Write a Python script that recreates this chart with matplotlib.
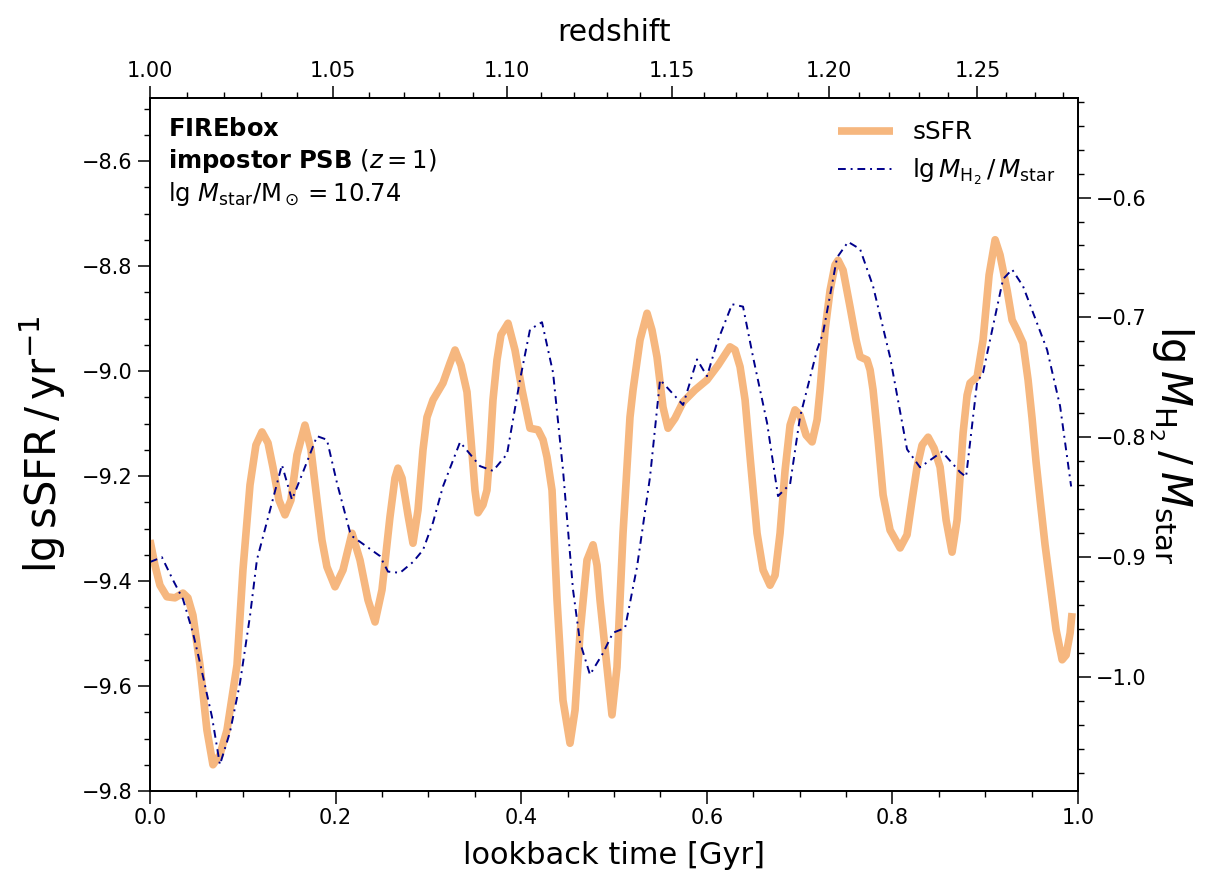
import numpy as np
import matplotlib
matplotlib.use("Agg")
import matplotlib.pyplot as plt
from matplotlib.ticker import MultipleLocator

# lookback time [Gyr] relative to z=1, sSFR curve
t_ssfr = [0.000, 0.0054, 0.0108, 0.0183, 0.0269, 0.0356, 0.0409, 0.0463, 0.0539, 0.0614,
          0.0679, 0.0754, 0.0830, 0.0938, 0.1002, 0.1078, 0.1142, 0.1207, 0.1272, 0.1325,
          0.1390, 0.1455, 0.1519, 0.1584, 0.1670, 0.1735, 0.1800, 0.1853, 0.1907, 0.1994,
          0.2080, 0.2177, 0.2263, 0.2349, 0.2425, 0.2500, 0.2586, 0.2640, 0.2672, 0.2716,
          0.2780, 0.2834, 0.2888, 0.2942, 0.2985, 0.3050, 0.3157, 0.3233, 0.3287, 0.3351,
          0.3416, 0.3459, 0.3502, 0.3534, 0.3588, 0.3631, 0.3664, 0.3696, 0.3739, 0.3782,
          0.3858, 0.3933, 0.4009, 0.4095, 0.4181, 0.4235, 0.4278, 0.4332, 0.4386, 0.4450,
          0.4526, 0.4580, 0.4634, 0.4709, 0.4774, 0.4817, 0.4849, 0.4925, 0.4978, 0.5032,
          0.5097, 0.5172, 0.5205, 0.5280, 0.5356, 0.5409, 0.5463, 0.5528, 0.5582, 0.5657,
          0.5744, 0.5873, 0.6002, 0.6121, 0.6250, 0.6304, 0.6358, 0.6412, 0.6466, 0.6541,
          0.6606, 0.6681, 0.6735, 0.6789, 0.6843, 0.6897, 0.6950, 0.7004, 0.7069, 0.7134,
          0.7188, 0.7220, 0.7274, 0.7328, 0.7381, 0.7414, 0.7468, 0.7543, 0.7608, 0.7651,
          0.7726, 0.7759, 0.7791, 0.7845, 0.7899, 0.7974, 0.8082, 0.8157, 0.8211, 0.8265,
          0.8319, 0.8384, 0.8448, 0.8513, 0.8578, 0.8642, 0.8696, 0.8761, 0.8804, 0.8836,
          0.8912, 0.8976, 0.9041, 0.9106, 0.9159, 0.9235, 0.9289, 0.9343, 0.9407, 0.9461,
          0.9504, 0.9547, 0.9591, 0.9644, 0.9698, 0.9763, 0.9828, 0.9871, 0.9914, 0.9935]
ssfr = [-9.322, -9.370, -9.408, -9.430, -9.432, -9.423, -9.432, -9.465, -9.560, -9.684,
        -9.750, -9.731, -9.684, -9.560, -9.379, -9.217, -9.141, -9.116, -9.137, -9.183,
        -9.246, -9.274, -9.246, -9.160, -9.103, -9.150, -9.246, -9.322, -9.373, -9.411,
        -9.379, -9.309, -9.360, -9.436, -9.478, -9.417, -9.278, -9.204, -9.185, -9.204,
        -9.274, -9.328, -9.265, -9.150, -9.088, -9.055, -9.023, -8.985, -8.960, -8.989,
        -9.040, -9.131, -9.227, -9.270, -9.255, -9.227, -9.150, -9.055, -8.979, -8.931,
        -8.909, -8.960, -9.036, -9.109, -9.112, -9.131, -9.164, -9.227, -9.436, -9.627,
        -9.709, -9.646, -9.499, -9.360, -9.331, -9.370, -9.436, -9.564, -9.655, -9.564,
        -9.309, -9.088, -9.036, -8.941, -8.890, -8.922, -8.973, -9.069, -9.109, -9.090,
        -9.059, -9.036, -9.017, -8.989, -8.954, -8.960, -8.992, -9.055, -9.164, -9.309,
        -9.379, -9.408, -9.389, -9.309, -9.189, -9.103, -9.074, -9.084, -9.122, -9.135,
        -9.093, -9.036, -8.922, -8.846, -8.798, -8.789, -8.808, -8.878, -8.941, -8.973,
        -8.979, -8.998, -9.036, -9.131, -9.236, -9.303, -9.337, -9.312, -9.246, -9.183,
        -9.141, -9.126, -9.147, -9.183, -9.284, -9.345, -9.284, -9.118, -9.046, -9.023,
        -9.011, -8.941, -8.817, -8.750, -8.779, -8.846, -8.903, -8.922, -8.947, -9.017,
        -9.090, -9.173, -9.246, -9.331, -9.404, -9.493, -9.550, -9.541, -9.499, -9.461]

# molecular gas fraction
t_h2 = [0.000, 0.0129, 0.0248, 0.0356, 0.0463, 0.0539, 0.0668, 0.0754, 0.0862, 0.0970,
        0.1078, 0.1153, 0.1218, 0.1422, 0.1530, 0.1649, 0.1800, 0.1907, 0.2015, 0.2155,
        0.2188, 0.2478, 0.2565, 0.2694, 0.2834, 0.2942, 0.3050, 0.3157, 0.3341, 0.3556,
        0.3696, 0.3847, 0.3987, 0.4095, 0.4224, 0.4343, 0.4450, 0.4558, 0.4634, 0.4741,
        0.4881, 0.4989, 0.5119, 0.5248, 0.5388, 0.5496, 0.5744, 0.5894, 0.6002, 0.6110,
        0.6272, 0.6390, 0.6498, 0.6649, 0.6767, 0.6897, 0.7004, 0.7188, 0.7252, 0.7403,
        0.7522, 0.7651, 0.7791, 0.7974, 0.8157, 0.8297, 0.8534, 0.8728, 0.8793, 0.8912,
        0.8976, 0.9192, 0.9289, 0.9407, 0.9666, 0.9806, 0.9925]
h2 = [-0.904, -0.900, -0.919, -0.935, -0.963, -0.988, -1.033, -1.073, -1.046, -1.005,
      -0.949, -0.902, -0.883, -0.823, -0.852, -0.829, -0.799, -0.802, -0.838, -0.879,
      -0.883, -0.899, -0.912, -0.913, -0.904, -0.894, -0.871, -0.841, -0.804, -0.824,
      -0.828, -0.814, -0.752, -0.710, -0.704, -0.746, -0.827, -0.927, -0.971, -0.998,
      -0.980, -0.963, -0.959, -0.908, -0.833, -0.752, -0.773, -0.735, -0.749, -0.721,
      -0.689, -0.691, -0.733, -0.788, -0.849, -0.839, -0.783, -0.727, -0.713, -0.650,
      -0.637, -0.643, -0.674, -0.733, -0.810, -0.825, -0.812, -0.829, -0.833, -0.754,
      -0.746, -0.668, -0.660, -0.674, -0.727, -0.774, -0.841]

z_major = [1.00, 1.05, 1.10, 1.15, 1.20, 1.25]


def lookback_from_z1(z, h=0.6774, om=0.3089):
    # lookback time between z=1 and z, flat LCDM
    zz = np.linspace(1.0, z, 500)
    f = 1.0 / ((1 + zz) * np.sqrt(om * (1 + zz) ** 3 + 1 - om))
    return 977.8 / (100 * h) * np.trapezoid(f, zz)


plt.rcParams['mathtext.fontset'] = 'dejavusans'
fig = plt.figure(figsize=(12.24, 8.91), dpi=100)
ax = fig.add_axes([0.1225, 0.1122, 0.7583, 0.7778])
ax2 = ax.twinx()
ax3 = ax.twiny()

l1, = ax.plot(t_ssfr, ssfr, color='#F6B77F', lw=5.5, label='sSFR',
              solid_capstyle='butt', solid_joinstyle='round')
l2, = ax2.plot(t_h2, h2, color='darkblue', lw=1.4, ls=(0, (4, 2.5, 1, 2.5)),
               label=r'$\lg M_{\rm H_2}\,/\,M_{\rm star}$')

ax.set_xlim(0, 1)
ax.set_ylim(-9.80, -8.48)
ax2.set_ylim(-1.095, -0.517)

ax.xaxis.set_major_locator(MultipleLocator(0.2))
ax.xaxis.set_minor_locator(MultipleLocator(0.05))
ax.yaxis.set_major_locator(MultipleLocator(0.2))
ax.yaxis.set_minor_locator(MultipleLocator(0.05))
ax2.yaxis.set_major_locator(MultipleLocator(0.1))
ax2.yaxis.set_minor_locator(MultipleLocator(0.02))

# redshift axis on top
ax3.set_xlim(0, 1)
ax3.set_xticks([lookback_from_z1(z) for z in z_major])
ax3.set_xticklabels(['%.2f' % z for z in z_major])
z_minor = [1.0 + 0.01 * i for i in range(30)]
t_minor = [lookback_from_z1(z) for z in z_minor]
ax3.set_xticks([t for t in t_minor if t <= 1.0], minor=True)
ax3.set_xlabel('redshift', fontsize=21.5, labelpad=14)

for a in (ax, ax2, ax3):
    a.tick_params(which='major', direction='out', length=9, width=1.1, labelsize=15)
    a.tick_params(which='minor', direction='out', length=4.5, width=1.0)
    for s in a.spines.values():
        s.set_linewidth(1.1)

ax.set_xlabel('lookback time [Gyr]', fontsize=22, labelpad=9)
ax.set_ylabel(r'$\lg {\rm sSFR}\,/\,{\rm yr}^{-1}$', fontsize=30, labelpad=10)
ax2.set_ylabel(r'$\lg M_{\rm H_2}\,/\,M_{\rm star}$', fontsize=30,
               rotation=270, labelpad=36)

ax.text(0.019, 0.972,
        '$\\mathbf{FIREbox}$\n$\\mathbf{impostor\\ PSB}\\ (z=1)$\n'
        'lg $M_{\\rm star}/{\\rm M}_\\odot = 10.74$',
        transform=ax.transAxes, ha='left', va='top', fontsize=17.5,
        linespacing=1.25)

ax2.legend([l1, l2], [l1.get_label(), l2.get_label()], loc='upper right',
           frameon=False, fontsize=17.8, handlelength=2.2)

fig.savefig('out.png', dpi=100)
